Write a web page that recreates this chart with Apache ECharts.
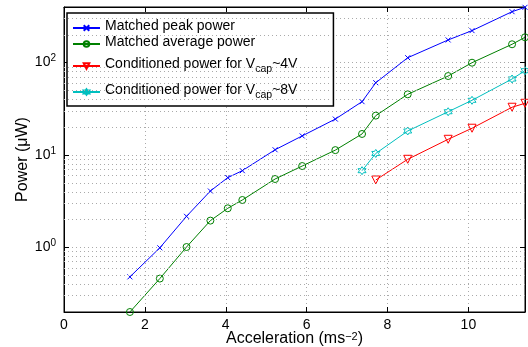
<!DOCTYPE html>
<html>
<head>
<meta charset="utf-8">
<script src="https://cdn.jsdelivr.net/npm/echarts@6/dist/echarts.min.js"></script>
<style>html,body{margin:0;padding:0;background:#fff;}#c{width:528px;height:347px;}</style>
</head>
<body>
<div id="c"></div>
<script>
// ---- data ----
const accelMatched = [1.63, 2.37, 3.03, 3.62, 4.05, 4.41, 5.22, 5.89, 6.71, 7.37, 7.71, 8.5, 9.5, 10.09, 11.08, 11.4];
const peakPower    = [0.48, 0.99, 2.17, 4.08, 5.69, 6.77, 11.4, 16.1, 24.5, 37.8, 60.6, 113, 176, 222, 356, 397];
const avgPower     = [0.2, 0.46, 1.01, 1.95, 2.65, 3.26, 5.5, 7.6, 11.3, 16.9, 26.7, 45.4, 71.6, 99.8, 158, 188];
const accel4V = [7.71, 8.5, 9.5, 10.09, 11.08, 11.4];
const power4V = [5.37, 8.99, 14.8, 19.5, 32.9, 36.3];
const accel8V = [7.37, 7.71, 8.5, 9.5, 10.09, 11.08, 11.4];
const power8V = [6.77, 10.4, 18.2, 29.4, 39.1, 66.5, 81.8];
const seriesNames = ['Matched peak power', 'Matched average power', 'Conditioned power for Vcap~4V', 'Conditioned power for Vcap~8V'];
const xTickValues = [0, 2, 4, 6, 8, 10];
const yMajorTicks = [1, 10, 100];
const yMinorGrid = [0.3, 0.4, 0.5, 0.6, 0.7, 0.8, 0.9, 2, 3, 4, 5, 6, 7, 8, 9, 20, 30, 40, 50, 60, 70, 80, 90, 200, 300];
const xLabel = 'Acceleration (ms';
const yLabel = 'Power (\u03BCW)';

const FONT = 'Liberation Sans, Arial, Helvetica, sans-serif';
const pair = (xs, ys) => xs.map((x, i) => [x, ys[i]]);

const crossPath = 'path://M0,0L10,10M10,0L0,10';
const triPath = 'path://M0,0L10,0L5,9Z';
const starPath = 'path://M5,0L6.44,2.5L9.33,2.5L7.89,5L9.33,7.5L6.44,7.5L5,10L3.56,7.5L0.67,7.5L2.11,5L0.67,2.5L3.56,2.5Z';

const chart = echarts.init(document.getElementById('c'), null, {renderer: 'canvas'});

const gridLine = {show: true, lineStyle: {type: [1, 3], color: '#aaa', width: 1}};

function mkSeries(name, data, color, symbol, size, extra) {
  return Object.assign({
    name: name, type: 'line', data: data, symbol: symbol, symbolSize: size,
    showAllSymbol: true, clip: false,
    lineStyle: {color: color, width: 1},
    itemStyle: {color: 'rgba(255,255,255,0)', borderColor: color, borderWidth: 1},
    emphasis: {disabled: true}, animation: false, z: 3
  }, extra || {});
}

chart.setOption({
  animation: false,
  backgroundColor: '#fff',
  textStyle: {fontFamily: FONT},
  grid: {left: 64, right: 3, top: 7, bottom: 35, outerBoundsMode: 'none', containLabel: false,
         show: true, borderColor: '#000', borderWidth: 1, backgroundColor: 'transparent'},
  legend: {
    orient: 'vertical', left: 67, top: 13,
    backgroundColor: '#fff', borderColor: '#000', borderWidth: 1.5,
    padding: [6, 36, 5, 5], itemGap: 2, itemWidth: 27, itemHeight: 7,
    data: seriesNames,
    formatter: function (n) {
      if (n.indexOf('Vcap') >= 0) {
        const parts = n.split('Vcap');
        return '{m|' + parts[0] + 'V}{s|cap}{m|' + parts[1] + '}';
      }
      return '{m|' + n + '}';
    },
    textStyle: {
      fontFamily: FONT, fontSize: 14, color: '#000',
      rich: {
        m: {fontFamily: FONT, fontSize: 14, color: '#000', lineHeight: 18, verticalAlign: 'top'},
        s: {fontFamily: FONT, fontSize: 10.5, color: '#000', lineHeight: 10, verticalAlign: 'bottom', padding: [13, 0, 0, 0]}
      }
    }
  },
  xAxis: [{
    type: 'value', min: 0, max: 11.4, interval: 2,
    name: xLabel + '{sup|\u22122}{m|)}',
    nameLocation: 'middle', nameGap: 19, nameMoveOverlap: false,
    nameTextStyle: {
      fontFamily: FONT, fontSize: 16, color: '#000',
      rich: {
        sup: {fontFamily: FONT, fontSize: 11, color: '#000', verticalAlign: 'top', lineHeight: 8},
        m: {fontFamily: FONT, fontSize: 16, color: '#000'}
      }
    },
    axisLine: {show: true, onZero: false, lineStyle: {color: '#000', width: 1}},
    axisTick: {show: true, inside: true, length: 5, lineStyle: {color: '#000'}},
    axisLabel: {
      fontFamily: FONT, fontSize: 14, color: '#000', margin: 6, showMaxLabel: false,
      formatter: function (v) { return xTickValues.indexOf(v) >= 0 ? String(v) : ''; }
    },
    splitLine: gridLine
  }, {
    type: 'value', min: 0, max: 11.4, interval: 2, position: 'top', gridIndex: 0,
    axisLine: {show: true, onZero: false, lineStyle: {color: '#000'}},
    axisTick: {show: true, inside: true, length: 5, lineStyle: {color: '#000'}},
    axisLabel: {show: false}, splitLine: {show: false}
  }],
  yAxis: [{
    type: 'log', logBase: 10, min: 0.2, max: 400,
    name: yLabel, nameLocation: 'middle', nameGap: 33, nameMoveOverlap: false,
    nameTextStyle: {fontFamily: FONT, fontSize: 16, color: '#000'},
    axisLine: {show: true, onZero: false, lineStyle: {color: '#000', width: 1}},
    axisTick: {show: true, inside: true, length: 5, lineStyle: {color: '#000'}},
    axisLabel: {
      fontFamily: FONT, fontSize: 14, color: '#000', margin: 8,
      showMinLabel: false, showMaxLabel: false,
      formatter: function (v) {
        for (let i = 0; i < yMajorTicks.length; i++) {
          if (Math.abs(v - yMajorTicks[i]) < 1e-6 * yMajorTicks[i]) {
            return '{b|10}{s|' + Math.round(Math.log10(v)) + '}';
          }
        }
        return '';
      },
      rich: {
        b: {fontFamily: FONT, fontSize: 14, color: '#000', lineHeight: 18},
        s: {fontFamily: FONT, fontSize: 10, color: '#000', verticalAlign: 'top', lineHeight: 8}
      }
    },
    splitLine: gridLine
  }, {
    type: 'log', logBase: 10, min: 0.2, max: 400, position: 'right',
    axisLine: {show: true, onZero: false, lineStyle: {color: '#000'}},
    axisTick: {show: true, inside: true, length: 5, lineStyle: {color: '#000'}},
    axisLabel: {show: false}, splitLine: {show: false}
  }],
  series: [
    mkSeries(seriesNames[0], pair(accelMatched, peakPower), '#0000ff', crossPath, 5, {
      markLine: {
        silent: true, symbol: 'none', animation: false,
        label: {show: false},
        lineStyle: {type: [1, 3], color: '#aaa', width: 1},
        emphasis: {disabled: true},
        data: yMinorGrid.map(v => ({yAxis: v}))
      },
      z: 4
    }),
    mkSeries(seriesNames[1], pair(accelMatched, avgPower), '#008000', 'circle', 7),
    mkSeries(seriesNames[2], pair(accel4V, power4V), '#ff0000', triPath, 8),
    mkSeries(seriesNames[3], pair(accel8V, power8V), '#00bfbf', starPath, 8)
  ]
});
</script>
</body>
</html>
